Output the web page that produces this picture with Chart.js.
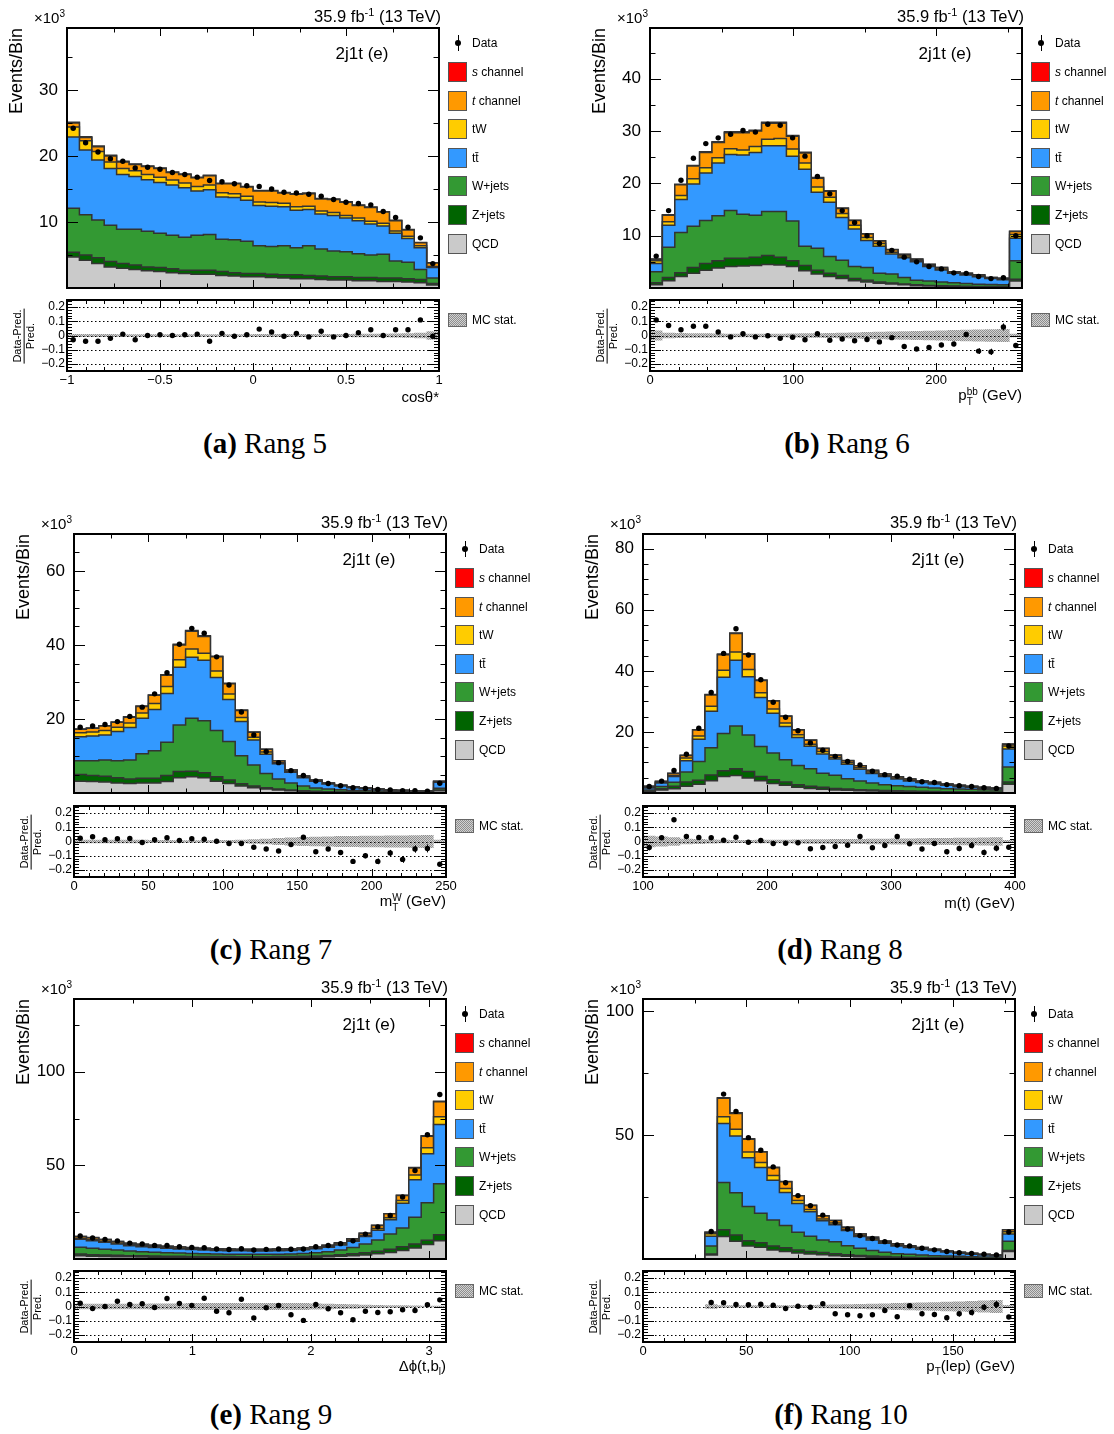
<!DOCTYPE html>
<html>
<head>
<meta charset="utf-8">
<title>2j1t (e) control distributions</title>
<script src="https://cdn.jsdelivr.net/npm/chart.js@4.4.1/dist/chart.umd.min.js"></script>
<style>
  html, body { margin: 0; padding: 0; background: #fff; }
  body { position: relative; width: 1114px; height: 1434px; overflow: hidden;
         font-family: "Liberation Sans", Arial, Helvetica, sans-serif; color: #000; }
  canvas { position: absolute; pointer-events: none; }
  .t { position: absolute; white-space: nowrap; line-height: 1; }
  .vert { writing-mode: vertical-rl; }
  .box { position: absolute; box-sizing: border-box; width: 19px; height: 20px; border: 1px solid #555; }
  .frac { display: inline-flex; flex-direction: column; align-items: center; font-size: 11px; line-height: 1.08; }
  .frac .num { border-bottom: 1px solid #000; padding: 0 1px; }
  .ss { display: inline-block; vertical-align: -0.38em; font-size: 10px; line-height: 0.95; text-align: left; }
  .ss > span { display: block; }
  .sb { font-size: 10px; vertical-align: -4px; }
  .cap { position: absolute; font-family: "Liberation Serif", "DejaVu Serif", serif; font-size: 29px;
         white-space: nowrap; transform: translate(-50%, -50%); line-height: 1; }
</style>
</head>
<body>
<script>
// ---------------------------------------------------------------------------
// Event yields per bin, in units of 10^3 events (stack order: QCD at the bottom)
// ---------------------------------------------------------------------------

// (a) cos theta*
const cosThetaRange = [-1, 1];
const cosThetaQCD   = [4.7,4.2,3.7,3.2,3.0,2.8,2.6,2.5,2.3,2.2, 2.1,2.1,1.9,1.8,1.7,1.7,1.6,1.5,1.4,1.4, 1.3,1.2,1.2,1.1,1.1,1.0,1.0,0.9,0.8,0.45];
const cosThetaZjets = [0.7,0.8,0.9,0.8,0.7,0.7,0.6,0.6,0.6,0.5, 0.6,0.6,0.6,0.5,0.5,0.5,0.5,0.5,0.6,0.5, 0.5,0.5,0.5,0.5,0.5,0.5,0.5,0.5,0.5,0.25];
const cosThetaWjets = [6.7,6.1,5.7,5.5,5.2,5.4,5.4,5.2,5.1,5.0, 5.3,5.4,4.9,5.0,4.9,4.2,4.2,4.4,4.1,4.5, 4.1,3.9,3.8,3.6,3.4,3.6,2.6,2.5,1.5,0.8];
const cosThetaTT    = [10.8,9.8,9.1,8.6,8.3,8.0,7.8,7.7,7.6,7.5, 6.7,6.8,6.4,6.4,6.2,6.1,6.1,5.9,5.7,5.5, 5.3,5.4,5.1,5.0,4.7,4.3,4.2,3.6,3.3,1.6];
const cosThetaTW    = [1.5,1.4,1.3,1.0,0.9,0.85,0.8,0.8,0.75,0.7, 0.7,0.7,0.65,0.6,0.6,0.55,0.55,0.55,0.5,0.5, 0.45,0.45,0.4,0.4,0.4,0.4,0.35,0.35,0.3,0.15];
const cosThetaTch   = [0.6,0.5,0.7,0.9,1.0,0.95,1.2,1.3,1.15,1.3, 1.3,1.4,1.35,1.5,1.4,1.65,1.75,1.55,1.9,1.9, 1.85,1.95,2.0,1.9,2.1,1.7,1.55,0.95,0.45,0.55];
const cosThetaSch   = [0.12,0.11,0.11,0.1,0.1,0.1,0.1,0.1,0.09,0.09, 0.09,0.09,0.09,0.08,0.08,0.08,0.08,0.08,0.08,0.08, 0.07,0.07,0.07,0.07,0.07,0.06,0.06,0.05,0.05,0.03];
const cosThetaData  = [24.2,22.0,20.6,19.6,19.2,18.2,18.3,18.0,17.5,17.2, 16.8,16.3,16.1,15.8,15.5,15.4,15.0,14.5,14.4,14.2, 13.9,13.4,13.0,12.8,12.6,11.6,10.7,9.2,7.6,3.7];
const cosThetaRatio = [-0.03,-0.04,-0.04,-0.02,0.01,-0.03,0.0,0.005,0.0,0.005, 0.01,-0.04,0.015,-0.005,0.005,0.045,0.025,-0.005,0.015,-0.01, 0.03,-0.01,0.0,0.02,0.04,0.0,0.04,0.04,0.11,-0.005];
const cosThetaRatioErr = [0.004,0.004,0.004,0.004,0.004,0.004,0.004,0.004,0.004,0.004, 0.004,0.004,0.004,0.004,0.004,0.004,0.004,0.004,0.004,0.004, 0.004,0.004,0.004,0.004,0.005,0.005,0.006,0.007,0.009,0.012];
const cosThetaMCStat   = [0.01,0.01,0.01,0.01,0.009,0.009,0.009,0.009,0.009,0.009, 0.009,0.009,0.009,0.009,0.009,0.01,0.01,0.01,0.01,0.01, 0.01,0.011,0.011,0.012,0.012,0.013,0.014,0.016,0.02,0.03];

// (b) pT of the b-jet pair
const ptBBRange = [0, 260];
const ptBBQCD   = [0.6,1.4,2.2,2.8,3.4,3.8,4.1,4.2,4.3,4.5, 4.4,4.1,3.3,2.7,2.2,1.8,1.4,1.15,0.9,0.75, 0.6,0.45,0.4,0.35,0.3,0.25,0.2,0.2,0.2,1.35];
const ptBBZjets = [0.4,0.6,0.7,1.1,1.3,1.4,1.6,1.5,1.6,1.7, 1.5,1.1,1.0,0.7,0.6,0.6,0.4,0.35,0.25,0.2, 0.15,0.15,0.1,0.1,0.1,0.1,0.1,0.1,0.1,0.3];
const ptBBWjets = [2.1,5.8,7.7,7.9,8.2,8.6,9.1,8.4,8.0,8.4, 8.7,7.6,3.7,4.2,3.2,2.9,2.3,2.4,1.65,1.75, 1.25,0.9,0.85,0.7,0.6,0.5,0.4,0.35,0.3,3.55];
const ptBBTT    = [1.6,4.2,6.3,8.1,9.1,10.1,10.7,11.3,12.0,12.6, 12.6,12.4,14.7,10.7,10.4,8.2,7.2,5.2,5.2,3.8, 3.8,3.5,2.75,2.3,1.8,1.65,1.45,1.15,1.0,4.3];
const ptBBTW    = [0.5,0.65,0.8,1.0,1.0,1.0,1.1,1.0,1.15,1.25, 1.4,1.35,1.2,1.0,0.95,0.75,0.7,0.55,0.5,0.35, 0.3,0.25,0.2,0.2,0.15,0.15,0.15,0.1,0.1,0.75];
const ptBBTch   = [0.3,1.25,2.05,2.4,2.9,2.9,3.1,3.3,2.95,3.05, 2.9,2.45,1.9,1.7,1.15,0.95,0.9,0.65,0.5,0.45, 0.3,0.25,0.2,0.25,0.15,0.15,0.2,0.1,0.15,0.55];
const ptBBSch   = [0.03,0.08,0.1,0.12,0.13,0.14,0.15,0.15,0.15,0.16, 0.16,0.15,0.13,0.11,0.09,0.08,0.07,0.05,0.05,0.04, 0.03,0.03,0.02,0.02,0.02,0.02,0.01,0.01,0.01,0.06];
const ptBBData  = [6.1,14.8,20.6,24.8,27.6,28.7,29.4,30.1,29.8,31.3, 31.1,28.7,25.2,21.3,18.0,14.8,12.5,10.0,8.5,7.2, 5.9,5.0,4.1,3.65,2.9,2.8,2.2,1.8,1.95,10.0];
const ptBBRatio = [0.11,0.07,0.04,0.065,0.065,0.025,-0.01,0.012,-0.01,-0.002, -0.02,-0.012,-0.03,0.012,-0.033,-0.025,-0.037,-0.028,-0.045,-0.015, -0.077,-0.095,-0.085,-0.067,-0.06,0.007,-0.11,-0.115,0.06,-0.07];
const ptBBRatioErr = [0.012,0.007,0.006,0.005,0.005,0.005,0.005,0.005,0.005,0.005, 0.005,0.005,0.005,0.006,0.006,0.007,0.008,0.009,0.01,0.011, 0.012,0.013,0.014,0.015,0.016,0.018,0.02,0.022,0.025,0.008];
const ptBBMCStat   = [0.035,0.02,0.018,0.016,0.015,0.014,0.013,0.013,0.013,0.013, 0.013,0.014,0.015,0.016,0.018,0.02,0.022,0.024,0.026,0.028, 0.03,0.032,0.034,0.036,0.038,0.04,0.042,0.044,0.046,0.012];

// (c) transverse W mass
const mtWRange = [0, 250];
const mtWQCD   = [3.2,3.1,3.0,2.7,2.6,2.7,2.7,3.1,4.1,4.4, 4.1,3.2,2.6,1.9,1.45,1.1,0.8,0.6,0.45,0.35, 0.27,0.22,0.18,0.15,0.13,0.1,0.08,0.07,0.07,0.6];
const mtWZjets = [1.8,1.6,1.5,1.4,1.2,1.3,1.3,1.6,1.7,1.5, 1.4,1.2,0.9,0.6,0.45,0.35,0.3,0.2,0.15,0.1, 0.08,0.08,0.07,0.05,0.05,0.05,0.04,0.03,0.03,0.2];
const mtWWjets = [3.7,4.0,4.4,4.6,5.1,6.6,7.4,9.0,12.6,14.3, 14.0,12.5,10.4,7.6,5.7,3.85,2.7,1.9,1.3,0.9, 0.75,0.6,0.45,0.4,0.37,0.3,0.26,0.23,0.2,0.5];
const mtWTT    = [6.5,6.7,6.8,7.9,8.8,9.6,11.2,13.2,15.6,16.5, 16.4,14.3,11.4,9.2,6.7,5.2,4.1,2.9,2.2,1.8, 1.35,1.0,0.75,0.55,0.35,0.3,0.22,0.17,0.15,1.6];
const mtWTW    = [1.1,1.1,1.2,1.2,1.2,1.4,1.6,1.9,2.0,2.25, 1.9,1.8,1.45,1.1,0.75,0.55,0.35,0.25,0.2,0.15, 0.1,0.1,0.1,0.08,0.08,0.06,0.05,0.05,0.04,0.1];
const mtWTch   = [0.9,1.0,1.2,1.3,1.6,1.8,2.2,3.0,4.0,4.75, 4.5,3.8,2.75,1.9,1.35,0.75,0.45,0.35,0.3,0.2, 0.15,0.1,0.15,0.12,0.12,0.09,0.07,0.08,0.06,0.15];
const mtWSch   = [0.08,0.08,0.09,0.09,0.1,0.11,0.12,0.14,0.17,0.19, 0.18,0.16,0.13,0.1,0.07,0.05,0.04,0.03,0.02,0.02, 0.01,0.01,0.01,0.01,0.01,0.01,0.01,0.01,0.01,0.01];
const mtWData  = [17.8,18.1,18.5,19.3,20.7,23.2,26.8,32.5,40.2,44.5, 43.2,36.8,29.2,21.9,15.7,11.2,8.2,6.05,4.75,3.25, 2.55,1.95,1.45,1.2,0.95,0.83,0.63,0.6,0.52,2.65];
const mtWRatio = [0.023,0.033,0.012,0.019,0.021,-0.007,0.012,0.026,0.007,0.019, 0.016,0.002,-0.014,-0.014,-0.04,-0.053,-0.067,-0.021,0.03,-0.072, -0.053,-0.077,-0.14,-0.1,-0.14,-0.081,-0.126,-0.053,-0.049,-0.16];
const mtWRatioErr = [0.004,0.004,0.004,0.004,0.004,0.004,0.004,0.004,0.004,0.004, 0.004,0.005,0.005,0.006,0.007,0.008,0.009,0.01,0.012,0.013, 0.014,0.015,0.016,0.018,0.02,0.022,0.024,0.026,0.028,0.01];
const mtWMCStat   = [0.012,0.012,0.012,0.012,0.012,0.012,0.011,0.01,0.009,0.009, 0.009,0.01,0.011,0.013,0.016,0.02,0.024,0.028,0.031,0.034, 0.036,0.038,0.039,0.04,0.041,0.042,0.043,0.044,0.046,0.012];

// (d) reconstructed top-quark mass
const mTopRange = [100, 400];
const mTopQCD   = [0.45,1.0,1.4,2.2,2.9,4.0,5.4,5.7,4.9,4.0, 3.15,2.5,1.85,1.5,1.2,1.0,0.9,0.75,0.65,0.55, 0.5,0.45,0.4,0.35,0.3,0.25,0.25,0.2,0.2,2.9];
const mTopZjets = [0.2,0.4,0.8,1.4,1.3,1.9,1.9,2.2,2.1,1.4, 1.2,1.1,0.85,0.7,0.65,0.5,0.4,0.35,0.3,0.3, 0.25,0.2,0.2,0.15,0.15,0.15,0.1,0.1,0.1,0.7];
const mTopWjets = [0.35,0.7,1.3,3.3,6.1,8.9,12.2,14.0,12.0,9.8, 8.75,7.3,6.3,5.7,4.65,4.3,3.4,2.8,2.35,1.85, 1.65,1.45,1.25,1.1,0.95,0.9,0.85,0.8,0.7,4.9];
const mTopTT    = [0.6,1.2,1.9,3.7,7.3,12.0,18.4,21.6,19.1,16.1, 13.0,10.9,9.2,7.4,6.3,5.3,4.7,3.9,3.1,2.7, 2.2,1.8,1.55,1.35,1.1,0.75,0.65,0.4,0.3,5.9];
const mTopTW    = [0.25,0.2,0.35,0.9,1.1,1.6,2.3,2.7,2.3,1.5, 1.4,1.1,0.9,0.65,0.8,0.55,0.55,0.5,0.45,0.35, 0.3,0.3,0.25,0.25,0.2,0.2,0.15,0.15,0.12,1.0];
const mTopTch   = [0.35,0.3,0.65,0.8,1.9,3.7,5.1,6.0,5.0,4.0, 2.6,2.2,1.5,1.35,1.0,0.75,0.65,0.6,0.55,0.45, 0.4,0.4,0.25,0.3,0.25,0.25,0.2,0.2,0.18,0.6];
const mTopSch   = [0.01,0.02,0.03,0.06,0.1,0.15,0.2,0.22,0.2,0.16, 0.13,0.11,0.09,0.07,0.06,0.05,0.04,0.04,0.03,0.03, 0.02,0.02,0.02,0.02,0.01,0.01,0.01,0.01,0.01,0.06];
const mTopData  = [2.15,3.9,7.35,12.7,21.2,32.9,45.7,53.8,45.2,37.1, 29.7,24.8,20.4,16.4,14.0,12.0,10.3,9.2,7.1,6.0, 5.5,4.5,3.7,3.45,2.75,2.4,2.15,1.7,1.5,15.4];
const mTopRatio = [-0.042,0.026,0.153,0.035,0.028,0.026,0.009,0.03,-0.005,0.007, -0.014,-0.012,-0.009,-0.051,-0.042,-0.035,-0.026,0.035,-0.044,-0.028, 0.035,-0.016,-0.053,-0.014,-0.072,-0.049,-0.028,-0.077,-0.047,-0.04];
const mTopRatioErr = [0.02,0.015,0.012,0.008,0.006,0.005,0.004,0.004,0.004,0.005, 0.005,0.006,0.007,0.008,0.008,0.009,0.01,0.011,0.012,0.013, 0.014,0.015,0.016,0.017,0.018,0.019,0.02,0.02,0.022,0.008];
const mTopMCStat   = [0.04,0.035,0.03,0.02,0.018,0.014,0.012,0.01,0.01,0.012, 0.012,0.013,0.014,0.015,0.016,0.017,0.018,0.018,0.019,0.02, 0.021,0.022,0.023,0.024,0.025,0.026,0.027,0.028,0.03,0.01];

// (e) delta phi between top candidate and light b jet
const dPhiRange = [0, 3.1416];
const dPhiQCD   = [1.8,1.45,1.3,1.25,1.15,1.1,1.0,0.95,0.9,0.9, 0.85,0.85,0.8,0.8,0.8,0.8,0.85,0.9,0.95,1.0, 1.2,1.45,1.8,2.2,2.8,3.5,4.5,5.9,7.7,9.8];
const dPhiZjets = [0.9,0.85,0.8,0.75,0.65,0.6,0.6,0.55,0.55,0.5, 0.5,0.45,0.5,0.45,0.45,0.45,0.45,0.45,0.5,0.6, 0.7,0.85,1.0,1.2,1.4,1.7,2.0,2.1,2.3,3.1];
const dPhiWjets = [3.55,3.4,3.1,2.8,2.5,2.2,2.0,1.9,1.75,1.6, 1.5,1.4,1.3,1.25,1.25,1.25,1.3,1.35,1.55,1.8, 2.0,2.5,3.3,4.6,6.0,8.2,10.1,14.3,20.0,27.3];
const dPhiTT    = [4.25,4.1,3.7,3.2,2.8,2.7,2.5,2.3,2.15,2.05, 1.95,1.9,1.85,1.85,1.8,1.8,1.85,1.9,1.95,2.05, 2.35,2.7,3.4,4.0,5.2,7.5,13.2,20.0,26.25,31.6];
const dPhiTW    = [0.6,0.65,0.6,0.55,0.55,0.55,0.5,0.45,0.45,0.4, 0.4,0.4,0.4,0.35,0.4,0.4,0.4,0.4,0.4,0.4, 0.45,0.45,0.5,0.7,0.9,1.1,1.4,2.5,3.2,4.1];
const dPhiTch   = [0.9,0.95,0.9,0.75,0.75,0.75,0.7,0.65,0.6,0.6, 0.5,0.5,0.5,0.5,0.5,0.5,0.5,0.5,0.55,0.55, 0.6,0.65,0.7,1.05,1.6,2.1,2.7,3.8,6.05,8.0];
const dPhiSch   = [0.05,0.05,0.05,0.04,0.04,0.04,0.04,0.03,0.03,0.03, 0.03,0.03,0.03,0.03,0.03,0.03,0.03,0.03,0.03,0.03, 0.04,0.04,0.05,0.06,0.08,0.1,0.14,0.2,0.27,0.35];
const dPhiData  = [12.3,11.25,10.4,9.65,8.5,8.05,7.25,7.2,6.55,6.1, 6.05,5.3,5.1,5.45,4.8,5.15,5.4,5.2,5.3,6.5, 7.2,8.2,9.7,13.3,17.15,23.2,33.1,47.25,66.3,87.85];
const dPhiRatio = [0.023,-0.014,0.0,0.037,0.014,0.019,-0.007,0.056,0.021,0.007, 0.058,-0.033,-0.044,0.051,-0.081,-0.009,0.007,-0.058,-0.098,0.014, -0.016,-0.044,-0.093,-0.033,-0.042,-0.037,-0.023,-0.028,0.012,0.047];
const dPhiRatioErr = [0.006,0.006,0.007,0.007,0.007,0.008,0.008,0.008,0.008,0.008, 0.009,0.009,0.009,0.009,0.009,0.009,0.009,0.009,0.009,0.009, 0.008,0.008,0.007,0.006,0.005,0.005,0.004,0.004,0.003,0.003];
const dPhiMCStat   = [0.02,0.02,0.02,0.02,0.02,0.02,0.022,0.022,0.022,0.024, 0.024,0.024,0.025,0.025,0.025,0.025,0.025,0.025,0.024,0.022, 0.02,0.018,0.015,0.012,0.01,0.009,0.008,0.007,0.006,0.006];

// (f) lepton pT
const ptLepRange = [0, 180];
const ptLepQCD   = [0,0,0,0,0,1.6,9.05,7.2,5.3,4.7, 3.65,3.0,2.4,2.0,1.75,1.35,1.1,0.9,0.75,0.6, 0.5,0.45,0.4,0.35,0.3,0.28,0.25,0.22,0.2,3.0];
const ptLepZjets = [0,0,0,0,0,0.4,2.75,2.5,2.1,1.9, 1.65,1.5,1.25,1.0,0.85,0.8,0.65,0.55,0.45,0.4, 0.35,0.3,0.25,0.2,0.2,0.17,0.15,0.13,0.1,0.4];
const ptLepWjets = [0,0,0,0,0,3.3,19.1,17.1,13.8,11.9, 10.5,9.0,7.15,6.2,5.1,4.85,3.65,2.85,2.2,1.7, 1.3,1.15,0.95,0.8,0.7,0.65,0.55,0.45,0.5,3.8];
const ptLepTT    = [0,0,0,0,0,3.9,23.8,22.9,19.7,18.5, 16.0,13.4,11.6,9.85,7.7,6.8,6.1,4.75,4.3,3.65, 3.15,2.7,2.3,2.05,1.65,1.2,0.95,0.8,0.55,2.9];
const ptLepTW    = [0,0,0,0,0,0.95,2.7,2.7,2.3,2.0, 1.9,1.6,1.2,0.95,0.8,0.7,0.55,0.45,0.45,0.35, 0.3,0.28,0.28,0.2,0.16,0.16,0.16,0.12,0.1,0.95];
const ptLepTch   = [0,0,0,0,0,0.65,7.5,6.4,5.2,4.2, 3.2,2.7,1.9,1.6,1.2,1.0,0.75,0.6,0.65,0.5, 0.5,0.42,0.42,0.3,0.24,0.24,0.24,0.18,0.15,0.75];
const ptLepSch   = [0,0,0,0,0,0.03,0.25,0.22,0.18,0.16, 0.13,0.11,0.09,0.08,0.06,0.05,0.04,0.04,0.03,0.03, 0.02,0.02,0.02,0.02,0.01,0.01,0.01,0.01,0.01,0.05];
const ptLepData  = [null,null,null,null,null,11.1,66.6,59.6,49.0,43.9, 37.2,30.8,25.6,21.5,17.7,14.7,12.1,9.45,8.3,7.0, 5.65,5.3,4.35,3.7,3.0,2.55,2.2,1.9,1.6,10.9];
const ptLepRatio = [null,null,null,null,null,0.028,0.026,0.014,0.012,0.016, 0.009,-0.014,0.002,-0.005,0.019,-0.051,-0.058,-0.065,-0.058,-0.028, -0.072,0.005,-0.051,-0.056,-0.079,-0.051,-0.042,-0.005,0.014,-0.074];
const ptLepRatioErr = [null,null,null,null,null,0.008,0.004,0.004,0.005,0.005, 0.005,0.006,0.007,0.008,0.009,0.01,0.011,0.012,0.013,0.014, 0.015,0.016,0.017,0.018,0.019,0.02,0.021,0.022,0.024,0.01];
const ptLepMCStat   = [null,null,null,null,null,0.015,0.008,0.008,0.008,0.008, 0.008,0.009,0.01,0.011,0.012,0.014,0.016,0.018,0.02,0.022, 0.024,0.026,0.028,0.03,0.033,0.036,0.039,0.042,0.045,0.01];

// relative-difference axis
const ratioTickValues = [-0.2, -0.1, 0, 0.1, 0.2];

// ---------------------------------------------------------------------------
// Styling and panel geometry
// ---------------------------------------------------------------------------
const FONT = '"Liberation Sans", Arial, Helvetica, sans-serif';
const OUTLINE = '#333333';
const SAMPLES = [
  { name: 'QCD',       legend: 'QCD',             color: '#cacaca' },
  { name: 'Z+jets',    legend: 'Z+jets',          color: '#006400' },
  { name: 'W+jets',    legend: 'W+jets',          color: '#339933' },
  { name: 'ttbar',     legend: 'tt\u0304',        color: '#3399ff' },
  { name: 'tW',        legend: 'tW',              color: '#ffcc00' },
  { name: 't channel', legend: '<i>t</i> channel', color: '#ff9900' },
  { name: 's channel', legend: '<i>s</i> channel', color: '#ff0000' }
];

const PANELS = [
  { tag: '(a)', caption: 'Rang 5', range: cosThetaRange,
    comps: [cosThetaQCD, cosThetaZjets, cosThetaWjets, cosThetaTT, cosThetaTW, cosThetaTch, cosThetaSch],
    data: cosThetaData, ratio: cosThetaRatio, ratioErr: cosThetaRatioErr, mcStat: cosThetaMCStat,
    yMax: 39.4, yStep: 10, yMinor: 5, xStep: 0.5, xMinor: 0.25, xMinorRatio: 0.1,
    xTitle: 'cos\u03b8*',
    box: { L: 67, R: 439, T: 28, B: 288, RT: 300, RB: 371 }, cap: { x: 265, y: 443 } },
  { tag: '(b)', caption: 'Rang 6', range: ptBBRange,
    comps: [ptBBQCD, ptBBZjets, ptBBWjets, ptBBTT, ptBBTW, ptBBTch, ptBBSch],
    data: ptBBData, ratio: ptBBRatio, ratioErr: ptBBRatioErr, mcStat: ptBBMCStat,
    yMax: 49.7, yStep: 10, yMinor: 5, xStep: 100, xMinor: 50, xMinorRatio: 20,
    xTitle: 'p<span class="ss"><span>bb</span><span>T</span></span> (GeV)',
    box: { L: 650, R: 1022, T: 28, B: 288, RT: 300, RB: 371 }, cap: { x: 847, y: 443 } },
  { tag: '(c)', caption: 'Rang 7', range: mtWRange,
    comps: [mtWQCD, mtWZjets, mtWWjets, mtWTT, mtWTW, mtWTch, mtWSch],
    data: mtWData, ratio: mtWRatio, ratioErr: mtWRatioErr, mcStat: mtWMCStat,
    yMax: 70, yStep: 20, yMinor: 5, xStep: 50, xMinor: 25, xMinorRatio: 10,
    xTitle: 'm<span class="ss"><span>W</span><span>T</span></span> (GeV)',
    box: { L: 74, R: 446, T: 534, B: 793, RT: 806, RB: 877 }, cap: { x: 271, y: 949 } },
  { tag: '(d)', caption: 'Rang 8', range: mTopRange,
    comps: [mTopQCD, mTopZjets, mTopWjets, mTopTT, mTopTW, mTopTch, mTopSch],
    data: mTopData, ratio: mTopRatio, ratioErr: mTopRatioErr, mcStat: mTopMCStat,
    yMax: 84.8, yStep: 20, yMinor: 5, xStep: 100, xMinor: 50, xMinorRatio: 20,
    xTitle: 'm(t) (GeV)',
    box: { L: 643, R: 1015, T: 534, B: 793, RT: 806, RB: 877 }, cap: { x: 840, y: 949 } },
  { tag: '(e)', caption: 'Rang 9', range: dPhiRange,
    comps: [dPhiQCD, dPhiZjets, dPhiWjets, dPhiTT, dPhiTW, dPhiTch, dPhiSch],
    data: dPhiData, ratio: dPhiRatio, ratioErr: dPhiRatioErr, mcStat: dPhiMCStat,
    yMax: 138.8, yStep: 50, yMinor: 25, xStep: 1, xMinor: 0.5, xMinorRatio: 0.2,
    xTitle: '\u0394\u03d5(t,b<span class="sb">l</span>)',
    box: { L: 74, R: 446, T: 999, B: 1259, RT: 1271, RB: 1342 }, cap: { x: 271, y: 1414 } },
  { tag: '(f)', caption: 'Rang 10', range: ptLepRange,
    comps: [ptLepQCD, ptLepZjets, ptLepWjets, ptLepTT, ptLepTW, ptLepTch, ptLepSch],
    data: ptLepData, ratio: ptLepRatio, ratioErr: ptLepRatioErr, mcStat: ptLepMCStat,
    yMax: 105, yStep: 50, yMinor: 25, xStep: 50, xMinor: 25, xMinorRatio: 10,
    xTitle: 'p<span class="sb">T</span>(lep) (GeV)',
    box: { L: 643, R: 1015, T: 999, B: 1259, RT: 1271, RB: 1342 }, cap: { x: 841, y: 1414 } }
];

// ---------------------------------------------------------------------------
// Helpers
// ---------------------------------------------------------------------------
function fmtTick(v) {
  const r = Math.round(v * 1000) / 1000;
  if (r === 0) return '0';
  return String(r).replace('-', '\u2212');
}

// histogram outline: one point per left bin edge plus the closing right edge
function stepPoints(edges, vals) {
  const pts = vals.map((v, i) => ({ x: edges[i], y: v }));
  pts.push({ x: edges[edges.length - 1], y: vals[vals.length - 1] });
  return pts;
}

function makeHatchCanvas() {
  const c = document.createElement('canvas');
  c.width = 2; c.height = 2;
  const g = c.getContext('2d');
  g.fillStyle = '#d2d2d2'; g.fillRect(0, 0, 2, 2);
  g.fillStyle = '#8e8e8e'; g.fillRect(0, 0, 1, 1); g.fillRect(1, 1, 1, 1);
  return c;
}
const hatchCanvas = makeHatchCanvas();
const hatchPattern = hatchCanvas.getContext('2d').createPattern(hatchCanvas, 'repeat');
const hatchURL = hatchCanvas.toDataURL();

function makeCanvas(left, top, w, h) {
  const c = document.createElement('canvas');
  c.width = w; c.height = h;
  c.style.left = left + 'px'; c.style.top = top + 'px';
  c.style.width = w + 'px'; c.style.height = h + 'px';
  document.body.appendChild(c);
  return c;
}

function text(html, x, y, size, align, extra) {
  const d = document.createElement('div');
  d.className = 't';
  d.innerHTML = html;
  d.style.left = x + 'px';
  d.style.top = y + 'px';
  d.style.fontSize = size + 'px';
  const tx = align === 'right' ? '-100%' : align === 'center' ? '-50%' : '0';
  d.style.transform = 'translate(' + tx + ',-50%)';
  if (extra) Object.assign(d.style, extra);
  document.body.appendChild(d);
  return d;
}

// Frame, inward tick marks, dotted reference lines and error bars
function framePlugin(cfg) {
  return {
    id: 'rootFrame',
    beforeDatasetDraw(chart, args) {
      if (args.index !== 0 || !cfg.dotted) return;
      const { ctx, chartArea: a, scales: { x, y } } = chart;
      ctx.save();
      ctx.strokeStyle = '#000';
      ctx.lineWidth = 1;
      ctx.setLineDash([1.5, 2.5]);
      cfg.dotted.forEach(v => {
        const py = Math.round(y.getPixelForValue(v)) + 0.5;
        ctx.beginPath(); ctx.moveTo(a.left, py); ctx.lineTo(a.right, py); ctx.stroke();
      });
      ctx.setLineDash([]);
      const ds = chart.data.datasets[0];
      if (ds.errs) {
        ds.data.forEach((pt, i) => {
          const e = ds.errs[i];
          if (pt.y == null || e == null) return;
          const px = Math.round(x.getPixelForValue(pt.x)) + 0.5;
          ctx.beginPath();
          ctx.moveTo(px, y.getPixelForValue(pt.y - e));
          ctx.lineTo(px, y.getPixelForValue(pt.y + e));
          ctx.stroke();
        });
      }
      ctx.restore();
    },
    afterDraw(chart) {
      const { ctx, chartArea: a, scales: { x, y } } = chart;
      const marks = (scale, major, minor, fn) => {
        const k0 = Math.ceil(scale.min / minor - 1e-6);
        const k1 = Math.floor(scale.max / minor + 1e-6);
        for (let k = k0; k <= k1; k++) {
          const v = k * minor;
          const isMajor = Math.abs(v / major - Math.round(v / major)) < 1e-6;
          fn(scale.getPixelForValue(v), isMajor);
        }
      };
      ctx.save();
      ctx.strokeStyle = '#000';
      ctx.lineWidth = 1;
      ctx.beginPath();
      marks(x, cfg.xMajor, cfg.xMinor, (px, M) => {
        const len = M ? cfg.xLen[0] : cfg.xLen[1];
        const p = Math.round(px) + 0.5;
        ctx.moveTo(p, a.bottom); ctx.lineTo(p, a.bottom - len);
        ctx.moveTo(p, a.top); ctx.lineTo(p, a.top + len);
      });
      marks(y, cfg.yMajor, cfg.yMinor, (py, M) => {
        const len = M ? cfg.yLen[0] : cfg.yLen[1];
        const p = Math.round(py) + 0.5;
        ctx.moveTo(a.left, p); ctx.lineTo(a.left + len, p);
        ctx.moveTo(a.right, p); ctx.lineTo(a.right - len, p);
      });
      ctx.stroke();
      ctx.lineWidth = 2;
      ctx.strokeRect(a.left, a.top, a.right - a.left, a.bottom - a.top);
      ctx.restore();
    }
  };
}

// ---------------------------------------------------------------------------
// Build one panel: stacked histogram + data, and the relative-difference pad
// ---------------------------------------------------------------------------
function buildPanel(p) {
  const { L, R, T, B, RT, RB } = p.box;
  const n = p.data.length;
  const w = (p.range[1] - p.range[0]) / n;
  const edges = [];
  for (let i = 0; i <= n; i++) edges.push(p.range[0] + i * w);
  const centers = edges.slice(0, n).map(e => e + w / 2);

  // cumulative stack tops, drawn from the largest down so lower layers sit in front
  let running = p.comps[0].map(() => 0);
  const stack = p.comps.map((vals, k) => {
    running = running.map((r, i) => r + vals[i]);
    return {
      label: SAMPLES[k].name, data: stepPoints(edges, running), stepped: true,
      fill: 'origin', backgroundColor: SAMPLES[k].color, borderColor: OUTLINE,
      borderWidth: 1.5, pointRadius: 0, tension: 0
    };
  });
  const dataSet = {
    label: 'Data', data: centers.map((x, i) => ({ x, y: p.data[i] })), showLine: false,
    pointRadius: 2.7, pointBackgroundColor: '#000', pointBorderColor: '#000', pointBorderWidth: 0
  };

  // y tick labels reserve (half label height + tick padding) above and below the area
  const AXW = 50, PADV = 24, PADR = 12;
  const mainCanvas = makeCanvas(L - AXW, T - PADV, AXW + (R - L) + PADR, (B - T) + 2 * PADV);
  new Chart(mainCanvas, {
    type: 'line',
    data: { datasets: [dataSet, ...stack] },
    options: {
      responsive: false, maintainAspectRatio: false, animation: false, events: [],
      layout: { padding: { left: 0, top: PADV, right: PADR, bottom: PADV } },
      plugins: { legend: { display: false }, tooltip: { enabled: false } },
      scales: {
        x: { type: 'linear', min: p.range[0], max: p.range[1], display: false },
        y: {
          type: 'linear', min: 0, max: p.yMax,
          afterFit(s) { s.width = AXW; },
          grid: { display: false, drawTicks: false }, border: { display: false },
          ticks: { stepSize: p.yStep, includeBounds: false, padding: 9, color: '#000',
                   font: { family: FONT, size: 17 }, callback: v => (v === 0 ? '' : fmtTick(v)) }
        }
      }
    },
    plugins: [framePlugin({ xMajor: p.xStep, xMinor: p.xMinor, yMajor: p.yStep, yMinor: p.yMinor,
                            xLen: [8, 4.5], yLen: [11, 5.5] })]
  });

  // ratio pad
  const ratioSet = {
    label: 'Data', data: centers.map((x, i) => ({ x, y: p.ratio[i] })), errs: p.ratioErr,
    showLine: false, pointRadius: 2.7, pointBackgroundColor: '#000', pointBorderColor: '#000', pointBorderWidth: 0
  };
  const bandUp = {
    label: 'MC stat.', data: stepPoints(edges, p.mcStat), stepped: true, fill: '+1',
    backgroundColor: hatchPattern, borderWidth: 0, pointRadius: 0, spanGaps: false
  };
  const bandLo = {
    label: 'MC stat. low', data: stepPoints(edges, p.mcStat.map(v => (v == null ? null : -v))),
    stepped: true, fill: false, borderWidth: 0, pointRadius: 0, spanGaps: false
  };
  const RPT = 14, XAH = 22, RPR = 14;
  const ratioCanvas = makeCanvas(L - AXW, RT - RPT, AXW + (R - L) + RPR, (RB - RT) + RPT + XAH);
  new Chart(ratioCanvas, {
    type: 'line',
    data: { datasets: [ratioSet, bandUp, bandLo] },
    options: {
      responsive: false, maintainAspectRatio: false, animation: false, events: [],
      layout: { padding: { left: 0, top: RPT, right: RPR, bottom: 0 } },
      plugins: { legend: { display: false }, tooltip: { enabled: false } },
      scales: {
        x: {
          type: 'linear', min: p.range[0], max: p.range[1],
          afterFit(s) { s.height = XAH; },
          grid: { display: false, drawTicks: false }, border: { display: false },
          ticks: { stepSize: p.xStep, includeBounds: false, padding: 2, maxRotation: 0, autoSkip: false,
                   color: '#000', font: { family: FONT, size: 13 }, callback: fmtTick }
        },
        y: {
          type: 'linear', min: -0.25, max: 0.25,
          afterFit(s) { s.width = AXW; },
          afterBuildTicks(s) { s.ticks = ratioTickValues.map(v => ({ value: v })); },
          grid: { display: false, drawTicks: false }, border: { display: false },
          ticks: { padding: 2, color: '#000', font: { family: FONT, size: 12 }, callback: fmtTick }
        }
      }
    },
    plugins: [framePlugin({ xMajor: p.xStep, xMinor: p.xMinorRatio, yMajor: 0.1, yMinor: 0.02,
                            xLen: [8, 4], yLen: [11, 5], dotted: ratioTickValues })]
  });

  // --- texts around the pads ---
  text('\u00d710<sup style="font-size:10px;vertical-align:6px">3</sup>', L - 33, T - 11, 15, 'left');
  text('35.9 fb<sup style="font-size:11px;vertical-align:6px">-1</sup> (13 TeV)', R + 2, T - 12, 16.5, 'right');
  text('2j1t (e)', R - 77, T + 25, 17, 'center');

  const ev = document.createElement('div');
  ev.className = 't vert';
  ev.textContent = 'Events/Bin';
  ev.style.fontSize = '18px';
  ev.style.left = (L - 51) + 'px';
  ev.style.top = T + 'px';
  ev.style.transform = 'translateX(-50%) rotate(180deg)';
  document.body.appendChild(ev);

  const fr = document.createElement('div');
  fr.className = 't';
  fr.innerHTML = '<span class="frac"><span class="num">Data-Pred.</span><span>Pred.</span></span>';
  fr.style.left = (L - 45) + 'px';
  fr.style.top = ((RT + RB) / 2) + 'px';
  fr.style.transform = 'translate(-50%,-50%) rotate(-90deg)';
  document.body.appendChild(fr);

  text(p.xTitle, R, RB + 25, 15, 'right');

  // legend
  const yc = k => T + 15.4 + 28.6 * k;
  const dot = document.createElement('div');
  Object.assign(dot.style, { position: 'absolute', left: (R + 16) + 'px', top: (yc(0) - 3) + 'px',
    width: '6px', height: '6px', borderRadius: '50%', background: '#000' });
  document.body.appendChild(dot);
  const bar = document.createElement('div');
  Object.assign(bar.style, { position: 'absolute', left: (R + 18.5) + 'px', top: (yc(0) - 8) + 'px',
    width: '1px', height: '16px', background: '#000' });
  document.body.appendChild(bar);
  text('Data', R + 33, yc(0), 12, 'left');
  [6, 5, 4, 3, 2, 1, 0].forEach((s, k) => {
    const b = document.createElement('div');
    b.className = 'box';
    b.style.left = (R + 9) + 'px';
    b.style.top = (yc(k + 1) - 10) + 'px';
    b.style.background = SAMPLES[s].color;
    document.body.appendChild(b);
    text(SAMPLES[s].legend, R + 33, yc(k + 1), 12, 'left');
  });
  const mb = document.createElement('div');
  mb.className = 'box';
  Object.assign(mb.style, { left: (R + 9) + 'px', top: (RT + 13) + 'px', height: '14px',
    backgroundImage: 'url(' + hatchURL + ')', backgroundRepeat: 'repeat', borderColor: '#666' });
  document.body.appendChild(mb);
  text('MC stat.', R + 33, RT + 20, 12, 'left');

  // caption
  const cap = document.createElement('div');
  cap.className = 'cap';
  cap.innerHTML = '<b>' + p.tag + '</b> ' + p.caption;
  cap.style.left = p.cap.x + 'px';
  cap.style.top = p.cap.y + 'px';
  document.body.appendChild(cap);
}

PANELS.forEach(buildPanel);
</script>
</body>
</html>
